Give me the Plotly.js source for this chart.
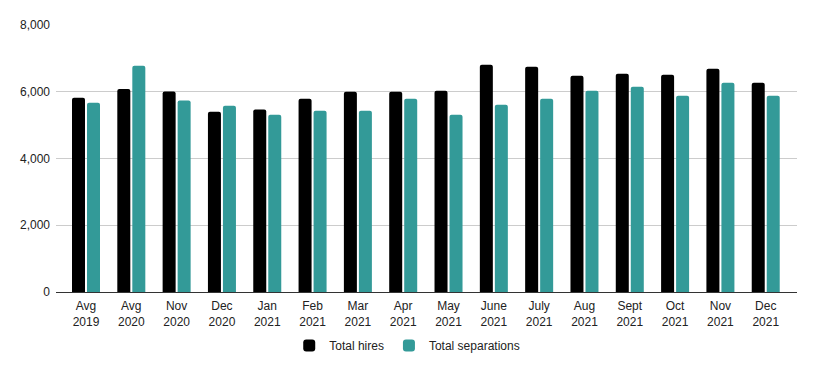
<!DOCTYPE html>
<html>
<head>
<meta charset="utf-8">
<script src="https://cdn.plot.ly/plotly-3.0.1.min.js"></script>
<style>html,body{margin:0;padding:0;background:#fff;}#chart{width:815px;height:371px;}</style>
</head>
<body>
<div id="chart"></div>
<script>
const categories = ["Avg<br>2019","Avg<br>2020","Nov<br>2020","Dec<br>2020","Jan<br>2021","Feb<br>2021","Mar<br>2021","Apr<br>2021","May<br>2021","June<br>2021","July<br>2021","Aug<br>2021","Sept<br>2021","Oct<br>2021","Nov<br>2021","Dec<br>2021"];
const totalHires = [5819,6084,6008,5400,5469,5790,6000,6000,6030,6810,6750,6480,6540,6510,6690,6270];
const totalSeparations = [5669,6777,5739,5580,5310,5430,5430,5790,5310,5610,5790,6030,6150,5880,6270,5880];
const tickVals = [0,2000,4000,6000,8000];
const tickText = ["0","2,000","4,000","6,000","8,000"];

const traces = [
  {type:'bar', name:'Total hires', x:categories, y:totalHires, marker:{color:'#000000', cornerradius:2}, hoverinfo:'none'},
  {type:'bar', name:'Total separations', x:categories, y:totalSeparations, marker:{color:'#339a98', cornerradius:2}, hoverinfo:'none'}
];
const layout = {
  width:815, height:371,
  margin:{l:56, r:18, t:25, b:79, autoexpand:false},
  paper_bgcolor:'#fff', plot_bgcolor:'#fff',
  font:{family:'Liberation Sans, Arial, sans-serif', size:12, color:'#222'},
  barmode:'group', bargap:0.338, bargroupgap:0.133,
  showlegend:true,
  legend:{orientation:'h', x:0.474, xanchor:'center', y:-0.2, yanchor:'middle', font:{size:12, color:'#222'}, itemwidth:30, tracegroupgap:0},
  xaxis:{type:'category', range:[-0.662,15.69], tickangle:0, showgrid:false, showline:true, linecolor:'#333', linewidth:1, ticks:'', ticklabelstandoff:3, tickfont:{size:12,color:'#222'}, fixedrange:true},
  yaxis:{range:[0,8000], tickvals:tickVals, ticktext:tickText, showgrid:true, gridcolor:'#cccccc', zeroline:false, showline:false, ticks:'', ticklabelstandoff:5, tickfont:{size:12,color:'#222'}, fixedrange:true}
};
Plotly.newPlot('chart', traces, layout, {displayModeBar:false, staticPlot:true});
</script>
</body>
</html>
